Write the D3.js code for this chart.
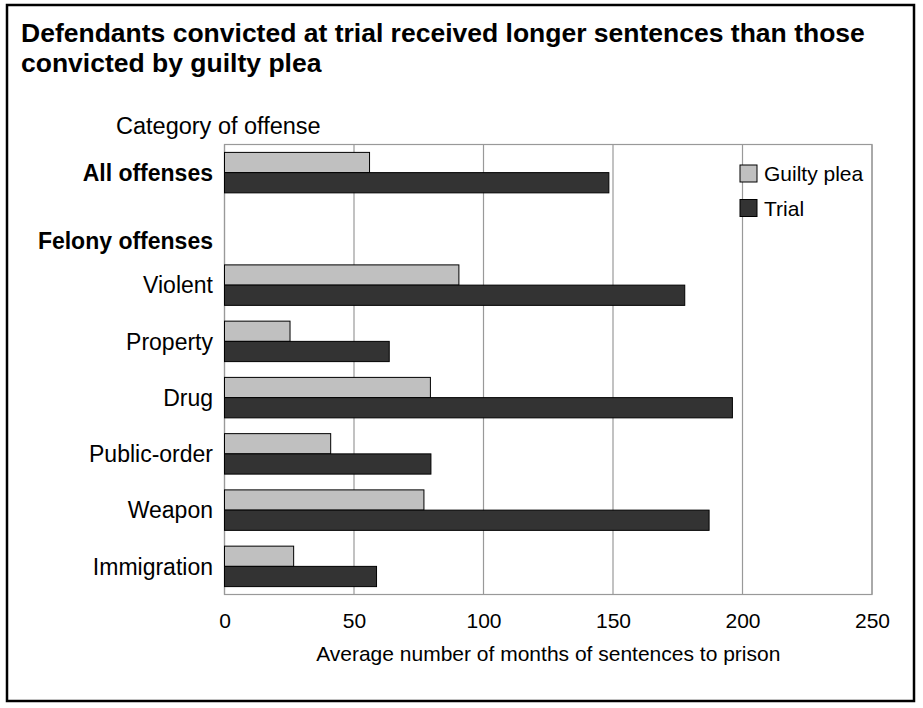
<!DOCTYPE html>
<html lang="en">
<head>
    <meta charset="UTF-8">
    <title>Sentences by plea</title>
    <script src="https://d3js.org/d3.v7.min.js"></script>
    <style>
        body { margin: 0; background: #fff; }
        text { font-family: "Liberation Sans", Arial, sans-serif; fill: #000; }
    </style>
</head>
<body>
<svg id="chart"></svg>

<script>
    // categories (the "Felony offenses" row is only a header, no bars)
    var categories = ["All offenses", "Felony offenses", "Violent", "Property", "Drug", "Public-order", "Weapon", "Immigration"];
    var boldCategories = ["All offenses", "Felony offenses"];
    var guiltyPlea = [56, null, 90.5, 25.3, 79.5, 41, 77, 26.7];
    var trial = [148.4, null, 177.7, 63.6, 196.1, 79.7, 187.1, 58.7];
    var xTicks = [0, 50, 100, 150, 200, 250];
    var seriesNames = ["Guilty plea", "Trial"];
    var seriesColors = ["#c0c0c0", "#333333"];

    (function() {
        var width = 923;
        var height = 708;

        var svg = d3.select("#chart")
            .attr("width", width)
            .attr("height", height);

        // frame round the whole figure
        svg.append("rect")
            .attr("x", 7).attr("y", 5)
            .attr("width", 907).attr("height", 696)
            .attr("fill", "none")
            .attr("stroke", "#000")
            .attr("stroke-width", 2.5);

        // title, two lines
        var title = svg.append("text")
            .attr("font-size", 26.5)
            .attr("font-weight", "bold");
        title.append("tspan").attr("x", 21).attr("y", 42)
            .text("Defendants convicted at trial received longer sentences than those");
        title.append("tspan").attr("x", 21).attr("y", 72)
            .text("convicted by guilty plea");

        svg.append("text")
            .attr("x", 116).attr("y", 134)
            .attr("font-size", 23.5)
            .text("Category of offense");

        var x = d3.scaleLinear().domain([0, 250]).range([224.5, 872]);
        var y = d3.scaleBand().domain(categories).range([144.5, 594.5]);
        var ySub = d3.scaleBand().domain(seriesNames).range([0, y.bandwidth()]).paddingOuter(0.39);

        // plot frame and vertical grid lines
        svg.append("rect")
            .attr("x", x(0)).attr("y", y.range()[0])
            .attr("width", x(250) - x(0))
            .attr("height", y.range()[1] - y.range()[0])
            .attr("fill", "none")
            .attr("stroke", "#999")
            .attr("stroke-width", 1.2);

        svg.append("g")
            .selectAll("line")
            .data(xTicks)
            .enter()
            .append("line")
            .attr("x1", function(d) { return x(d); })
            .attr("x2", function(d) { return x(d); })
            .attr("y1", y.range()[0])
            .attr("y2", y.range()[1])
            .attr("stroke", "#999")
            .attr("stroke-width", 1.2);

        // x axis: only the labels, no tick marks
        var xAxis = svg.append("g")
            .attr("transform", "translate(0," + y.range()[1] + ")")
            .call(d3.axisBottom(x).tickValues(xTicks).tickSize(0).tickPadding(0));
        xAxis.select(".domain").remove();
        xAxis.selectAll("text")
            .attr("y", 33)
            .attr("dy", 0)
            .attr("font-size", 21)
            .attr("font-family", "Liberation Sans, Arial, sans-serif")
            .attr("fill", "#000");

        svg.append("text")
            .attr("x", (x(0) + x(250)) / 2)
            .attr("y", 661)
            .attr("text-anchor", "middle")
            .attr("font-size", 21)
            .text("Average number of months of sentences to prison");

        // category labels
        svg.append("g")
            .selectAll("text")
            .data(categories)
            .enter()
            .append("text")
            .attr("x", 213)
            .attr("y", function(d) {
                var c = y(d) + y.bandwidth() / 2;
                return d === "Felony offenses" ? c + 12 : c;
            })
            .attr("dy", "0.36em")
            .attr("text-anchor", "end")
            .attr("font-size", 23)
            .attr("font-weight", function(d) { return boldCategories.indexOf(d) >= 0 ? "bold" : "normal"; })
            .text(function(d) { return d; });

        // bars
        var rows = categories.map(function(c, i) {
            return { cat: c, values: [guiltyPlea[i], trial[i]] };
        });

        var groups = svg.append("g")
            .selectAll("g")
            .data(rows)
            .enter()
            .append("g")
            .attr("transform", function(d) { return "translate(0," + y(d.cat) + ")"; });

        groups.selectAll("rect")
            .data(function(d) {
                return d.values.map(function(v, j) { return { name: seriesNames[j], value: v, j: j }; })
                    .filter(function(e) { return e.value !== null; });
            })
            .enter()
            .append("rect")
            .attr("x", x(0))
            .attr("y", function(d) { return ySub(d.name); })
            .attr("width", function(d) { return x(d.value) - x(0); })
            .attr("height", ySub.bandwidth())
            .attr("fill", function(d) { return seriesColors[d.j]; })
            .attr("stroke", "#000")
            .attr("stroke-width", 1);

        // legend
        var legend = svg.append("g")
            .selectAll("g")
            .data(seriesNames)
            .enter()
            .append("g")
            .attr("transform", function(d, i) { return "translate(740," + (165 + i * 34.5) + ")"; });

        legend.append("rect")
            .attr("width", 17).attr("height", 17)
            .attr("fill", function(d, i) { return seriesColors[i]; })
            .attr("stroke", "#000")
            .attr("stroke-width", 1);

        legend.append("text")
            .attr("x", 24).attr("y", 8.5)
            .attr("dy", "0.36em")
            .attr("font-size", 21)
            .text(function(d) { return d; });
    })();
</script>
</body>
</html>
